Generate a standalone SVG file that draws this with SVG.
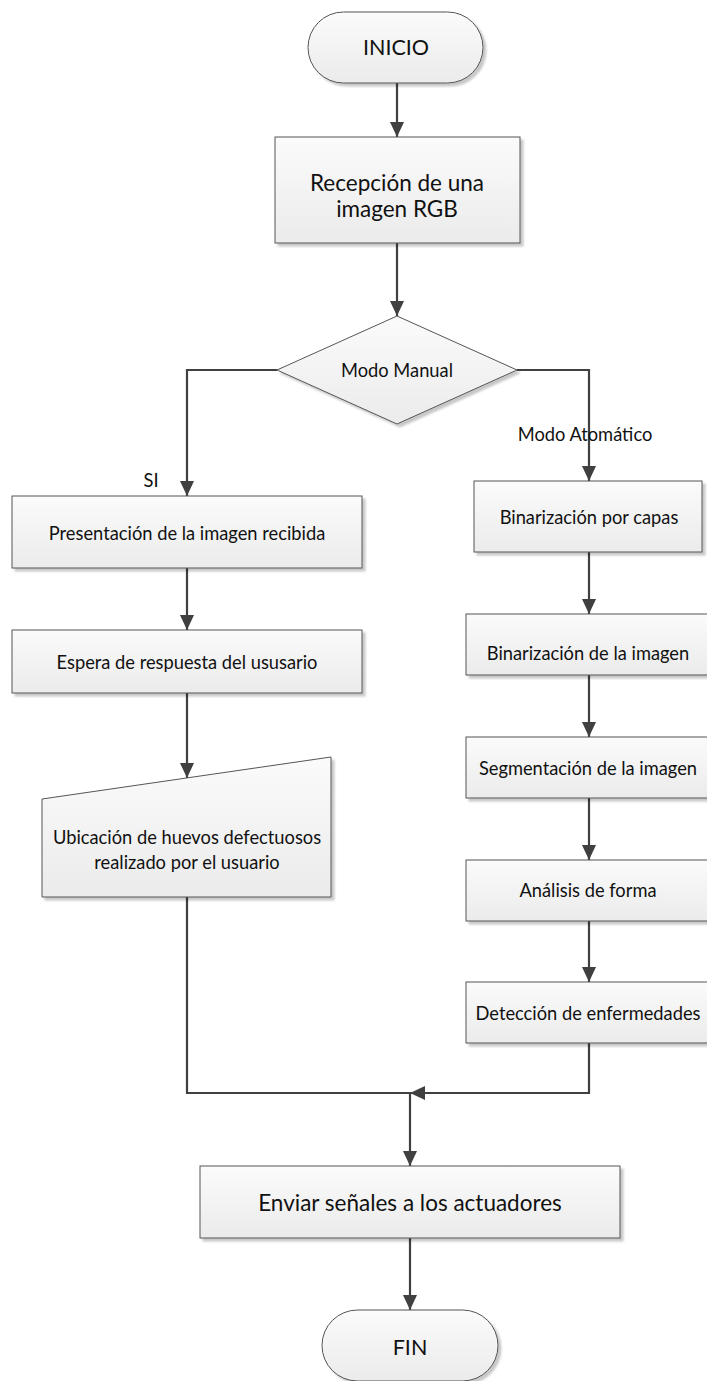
<svg xmlns="http://www.w3.org/2000/svg" width="707" height="1381" viewBox="0 0 707 1381">
<defs>
<linearGradient id="g" x1="0" y1="0" x2="0" y2="1">
<stop offset="0" stop-color="#fbfbfb"/>
<stop offset="1" stop-color="#ebebeb"/>
</linearGradient>
<filter id="sh" x="-10%" y="-10%" width="130%" height="140%">
<feDropShadow dx="3" dy="3" stdDeviation="1" flood-color="#000" flood-opacity="0.22"/>
</filter>
<marker id="ah" markerUnits="userSpaceOnUse" markerWidth="15" markerHeight="14" refX="15" refY="7" orient="auto">
<path d="M0,0 L15,7 L0,14 z" fill="#404040"/>
</marker>
</defs>
<style>
.n{fill:url(#g);stroke:#555;stroke-width:1;filter:url(#sh)}
.c{fill:none;stroke:#404040;stroke-width:2.2}
.t{font-family:Lato,"Liberation Sans",sans-serif;fill:#111;text-anchor:middle;dominant-baseline:central}
.s{font-size:18.3px}
.l{font-size:22.5px}
</style>
<g id="connectors">
<path class="c" d="M397,83 V137" marker-end="url(#ah)"/>
<path class="c" d="M397,243 V316" marker-end="url(#ah)"/>
<path class="c" d="M277,370 H187 V496" marker-end="url(#ah)"/>
<path class="c" d="M517,370 H589 V481" marker-end="url(#ah)"/>
<path class="c" d="M187,568 V630" marker-end="url(#ah)"/>
<path class="c" d="M187,693 V778" marker-end="url(#ah)"/>
<path class="c" d="M589,552 V614" marker-end="url(#ah)"/>
<path class="c" d="M589,675 V737" marker-end="url(#ah)"/>
<path class="c" d="M589,798 V860" marker-end="url(#ah)"/>
<path class="c" d="M589,921 V982" marker-end="url(#ah)"/>
<path class="c" d="M589,1043 V1093 H410" marker-end="url(#ah)"/>
<path class="c" d="M187,897 V1093 H410"/>
<path class="c" d="M410,1093 V1166" marker-end="url(#ah)"/>
<path class="c" d="M410,1238 V1310" marker-end="url(#ah)"/>
<text class="t s" x="151" y="480">SI</text>
<text class="t s" x="585" y="434">Modo Atomático</text>
</g>
<g id="inicio">
<rect class="n" x="308" y="12" width="175" height="71" rx="35.5"/>
<text class="t" x="396" y="47" font-size="21.5">INICIO</text>
</g>
<g id="recepcion">
<rect class="n" x="275" y="137" width="245" height="106"/>
<text class="t l" x="397" y="182">Recepción de una</text>
<text class="t l" x="397" y="208">imagen RGB</text>
</g>
<g id="decision">
<polygon class="n" points="397,316 517,370 397,424 277,370"/>
<text class="t s" x="397" y="370">Modo Manual</text>
</g>
<g id="presentacion">
<rect class="n" x="12" y="496" width="350" height="72"/>
<text class="t s" x="187" y="533">Presentación de la imagen recibida</text>
</g>
<g id="espera">
<rect class="n" x="12" y="630" width="350" height="63"/>
<text class="t s" x="187" y="662">Espera de respuesta del ususario</text>
</g>
<g id="ubicacion">
<polygon class="n" points="42,799 331,757 331,897 42,897"/>
<text class="t s" x="187" y="837">Ubicación de huevos defectuosos</text>
<text class="t s" x="187" y="862">realizado por el usuario</text>
</g>
<g id="bin-capas">
<rect class="n" x="474" y="481" width="228" height="71"/>
<text class="t s" x="589" y="517">Binarización por capas</text>
</g>
<g id="bin-imagen">
<rect class="n" x="466" y="614" width="246" height="61"/>
<text class="t s" x="588" y="653">Binarización de la imagen</text>
</g>
<g id="segmentacion">
<rect class="n" x="466" y="737" width="246" height="61"/>
<text class="t s" x="588" y="768">Segmentación de la imagen</text>
</g>
<g id="analisis">
<rect class="n" x="466" y="860" width="246" height="61"/>
<text class="t s" x="588" y="890">Análisis de forma</text>
</g>
<g id="deteccion">
<rect class="n" x="466" y="982" width="246" height="61"/>
<text class="t s" x="588" y="1013">Detección de enfermedades</text>
</g>
<g id="enviar">
<rect class="n" x="200" y="1166" width="420" height="72"/>
<text class="t l" x="410" y="1202">Enviar señales a los actuadores</text>
</g>
<g id="fin">
<rect class="n" x="322" y="1310" width="176" height="71" rx="35.5"/>
<text class="t" x="410" y="1347" font-size="21.5">FIN</text>
</g>
</svg>
